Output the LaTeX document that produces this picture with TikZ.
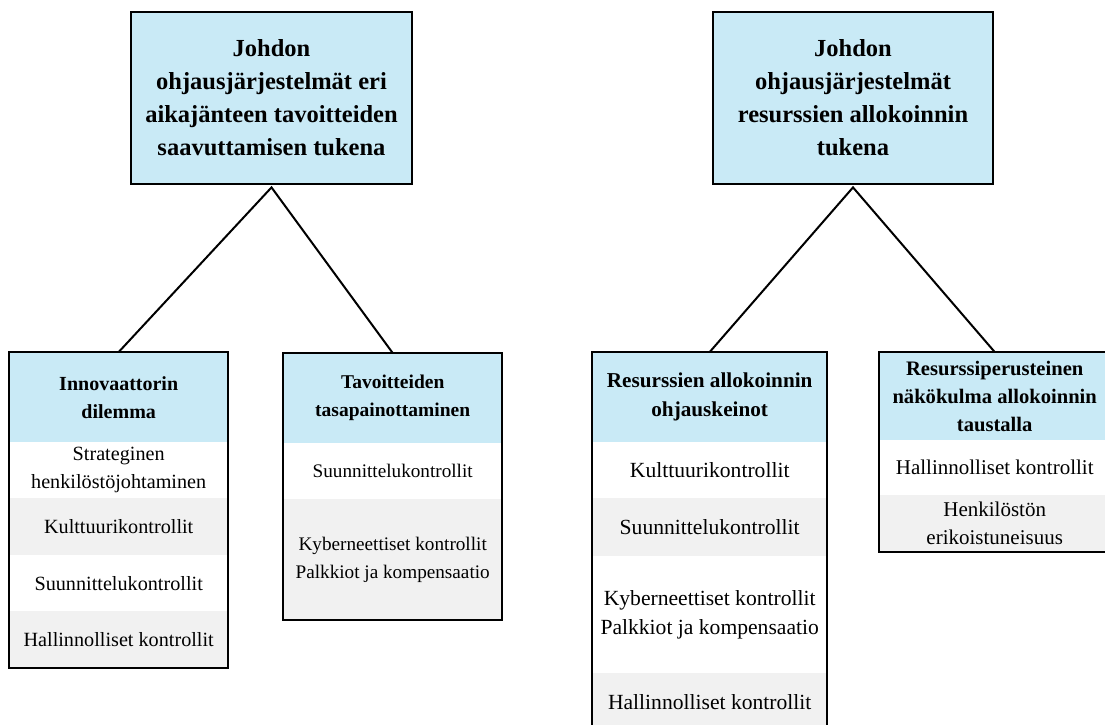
\documentclass[tikz,border=0pt]{standalone}
\usepackage{fontspec}
\setmainfont{Liberation Serif}
\definecolor{hdrblue}{RGB}{201,234,246}
\definecolor{rowgray}{RGB}{241,241,241}
\tikzset{
  topbox/.style={draw=black, line width=2.8pt, fill=hdrblue, inner sep=0pt, align=center,
    font=\bfseries\fontsize{24.5}{33}\selectfont},
  hdr/.style={fill=hdrblue, inner sep=0pt, align=center, anchor=north west},
  roww/.style={fill=white, inner sep=0pt, align=center, anchor=north west},
  rowg/.style={roww, fill=rowgray},
  frame/.style={draw=black, line width=2pt},
  conn/.style={draw=black, line width=2pt},
  fa/.style={font=\fontsize{20.2}{28}\selectfont},
  fb/.style={font=\fontsize{19.2}{28}\selectfont},
  fc/.style={font=\fontsize{21.6}{29}\selectfont},
  fd/.style={font=\fontsize{21}{28}\selectfont},
  ha/.style={font=\bfseries\fontsize{20}{28}\selectfont},
  hb/.style={font=\bfseries\fontsize{19.5}{28}\selectfont},
  hc/.style={font=\bfseries\fontsize{21.2}{29}\selectfont},
  hd/.style={font=\bfseries\fontsize{20.6}{28}\selectfont}
}
\begin{document}
\begin{tikzpicture}[x=1pt,y=-1pt]
\useasboundingbox (0,0) rectangle (1105,724);
\clip (0,0) rectangle (1105,724);
% top boxes
\node[topbox, minimum width=281pt, minimum height=172pt] (T1) at (271.5,98)
  {Johdon\\ohjausjärjestelmät eri\\aikajänteen tavoitteiden\\saavuttamisen tukena};
\node[topbox, minimum width=280pt, minimum height=172pt] (T2) at (853,98)
  {Johdon\\ohjausjärjestelmät\\resurssien allokoinnin\\tukena};
% box A
\node[hdr, ha, minimum width=219pt, minimum height=90pt] (Ah) at (9,352) {Innovaattorin\\dilemma};
\node[roww, fa, minimum width=219pt, minimum height=56pt] (A1) at (9,442) {Strateginen\\henkilöstöjohtaminen};
\node[rowg, fa, minimum width=219pt, minimum height=57pt] (A2) at (9,498) {Kulttuurikontrollit};
\node[roww, fa, minimum width=219pt, minimum height=56pt] (A3) at (9,555) {Suunnittelukontrollit};
\node[rowg, fa, minimum width=219pt, minimum height=57pt] (A4) at (9,611) {Hallinnolliset kontrollit};
\draw[frame] (Ah.north west) rectangle (A4.south east);
% box B
\node[hdr, hb, minimum width=219pt, minimum height=90pt] (Bh) at (283,353) {Tavoitteiden\\tasapainottaminen};
\node[roww, fb, minimum width=219pt, minimum height=56pt] (B1) at (283,443) {Suunnittelukontrollit};
\node[rowg, fb, minimum width=219pt, minimum height=121pt] (B2) at (283,499) {Kyberneettiset kontrollit\\Palkkiot ja kompensaatio};
\draw[frame] (Bh.north west) rectangle (B2.south east);
% box C
\node[hdr, hc, minimum width=235pt, minimum height=90pt] (Ch) at (592,352) {Resurssien allokoinnin\\ohjauskeinot};
\node[roww, fc, minimum width=235pt, minimum height=56pt] (C1) at (592,442) {Kulttuurikontrollit};
\node[rowg, fc, minimum width=235pt, minimum height=58pt] (C2) at (592,498) {Suunnittelukontrollit};
\node[roww, fc, minimum width=235pt, minimum height=117pt] (C3) at (592,556) {Kyberneettiset kontrollit\\Palkkiot ja kompensaatio};
\node[rowg, fc, minimum width=235pt, minimum height=58pt] (C4) at (592,673) {Hallinnolliset kontrollit};
\draw[frame] (Ch.north west) rectangle (C4.south east);
% box D
\node[hdr, hd, minimum width=231pt, minimum height=88pt] (Dh) at (879,352) {Resurssiperusteinen\\näkökulma allokoinnin\\taustalla};
\node[roww, fd, minimum width=231pt, minimum height=55pt] (D1) at (879,440) {Hallinnolliset kontrollit};
\node[rowg, fd, minimum width=231pt, minimum height=57pt] (D2) at (879,495) {Henkilöstön\\erikoistuneisuus};
\draw[frame] (Dh.north west) rectangle (D2.south east);
% connectors
\draw[conn] (Ah.north) -- ([yshift=-2pt]T1.south) -- (Bh.north);
\draw[conn] (Ch.north) -- ([yshift=-2pt]T2.south) -- (Dh.north);
\end{tikzpicture}
\end{document}
